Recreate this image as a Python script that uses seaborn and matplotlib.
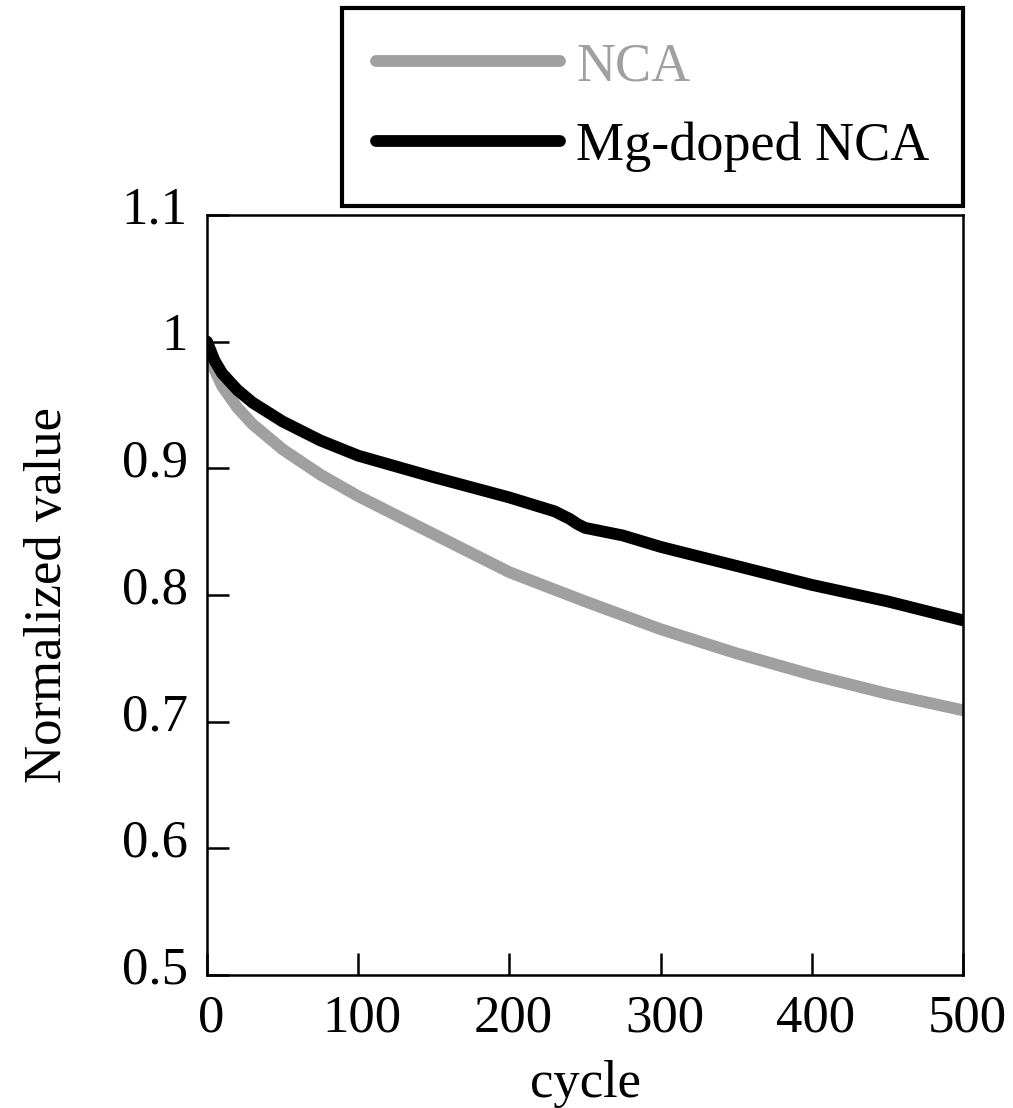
import pandas as pd
import seaborn as sns
import matplotlib
matplotlib.use('Agg')
import matplotlib.pyplot as plt
import matplotlib.transforms as mtransforms
from matplotlib.ticker import FormatStrFormatter

# cycle points
cycles_nca = [0, 5, 10, 20, 30, 50, 75, 100, 150, 200, 250, 300, 350, 400, 450, 500]
nca = [1.0, 0.978, 0.965, 0.948, 0.935, 0.915, 0.895, 0.878, 0.848, 0.818,
       0.795, 0.773, 0.754, 0.737, 0.722, 0.709]

cycles_mg = [0, 5, 10, 20, 30, 50, 75, 100, 150, 200, 230, 240, 245, 250,
             275, 300, 350, 400, 450, 500]
mg = [1.0, 0.985, 0.975, 0.962, 0.952, 0.937, 0.922, 0.910, 0.893, 0.877,
      0.866, 0.860, 0.856, 0.853, 0.847, 0.838, 0.823, 0.808, 0.795, 0.780]

x_ticks = [0, 100, 200, 300, 400, 500]
y_ticks = [0.5, 0.6, 0.7, 0.8, 0.9, 1.0, 1.1]

df_nca = pd.DataFrame({'cycle': cycles_nca, 'value': nca})
df_mg = pd.DataFrame({'cycle': cycles_mg, 'value': mg})

sns.set_style('ticks')
plt.rcParams['font.family'] = ['Liberation Serif', 'DejaVu Serif']
plt.rcParams['text.color'] = 'black'
plt.rcParams['axes.labelcolor'] = 'black'
plt.rcParams['xtick.color'] = 'black'
plt.rcParams['ytick.color'] = 'black'

fig = plt.figure(figsize=(10.13, 11.08), dpi=100)
# axes box: x 207..963 px, y 215..975 px
ax = fig.add_axes([207 / 1013, 133 / 1108, 756 / 1013, 760 / 1108])

sns.lineplot(data=df_nca, x='cycle', y='value', ax=ax, color='#a0a0a0',
             linewidth=8.5, label='NCA')
sns.lineplot(data=df_mg, x='cycle', y='value', ax=ax, color='black',
             linewidth=8.5, label='Mg-doped NCA')

ax.set_xlim(0, 500)
ax.set_ylim(0.5, 1.1)
ax.set_xticks(x_ticks)
ax.set_yticks(y_ticks)
ax.yaxis.set_major_formatter(FormatStrFormatter('%g'))
ax.tick_params(direction='in', length=16, width=1.8, labelsize=38,
               top=False, right=False)
ax.tick_params(axis='x', pad=14)
ax.tick_params(axis='y', pad=14)
for s in ax.spines.values():
    s.set_linewidth(1.8)
    s.set_color('black')

# y tick labels sit a little above their ticks in the original
up = mtransforms.ScaledTranslation(0, 10 / 100, fig.dpi_scale_trans)
for lbl in ax.get_yticklabels():
    lbl.set_transform(lbl.get_transform() + up)
right = mtransforms.ScaledTranslation(4 / 100, 0, fig.dpi_scale_trans)
for lbl in ax.get_xticklabels():
    lbl.set_transform(lbl.get_transform() + right)

ax.set_xlabel('cycle', fontsize=38)
ax.set_ylabel('Normalized value', fontsize=38)
ax.xaxis.set_label_coords(0.5, -0.112)
ax.yaxis.set_label_coords(-0.178, 0.5)

handles, labels = ax.get_legend_handles_labels()
ax.get_legend().remove()
leg = fig.legend(handles, labels, loc='upper right',
                 bbox_to_anchor=(963 / 1013, 1 - 8 / 1108), fontsize=39,
                 frameon=True, fancybox=False, edgecolor='black',
                 framealpha=1, handlelength=3.4, handletextpad=0.3,
                 borderpad=0.62, labelspacing=0.55, borderaxespad=0)
leg.get_frame().set_linewidth(3)
leg.get_texts()[0].set_color('#a0a0a0')

fig.savefig('out.png', dpi=100)
